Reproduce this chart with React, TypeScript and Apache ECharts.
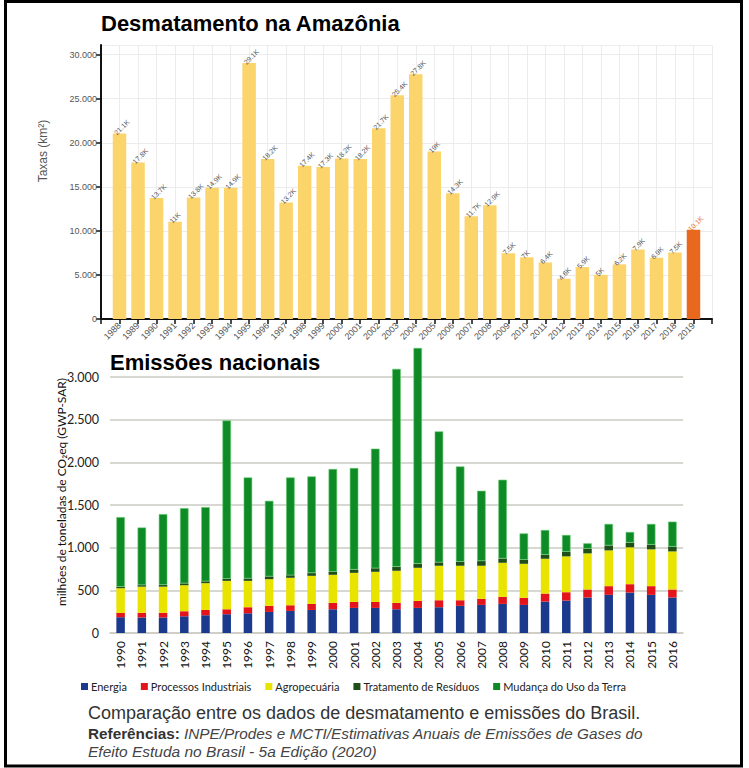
import React, { useEffect, useRef } from "react";
import * as echarts from "echarts";

// ---- Top chart: Desmatamento na Amazônia (PRODES, km²) ----
const deforestYears = [
  1988, 1989, 1990, 1991, 1992, 1993, 1994, 1995, 1996, 1997, 1998, 1999, 2000, 2001, 2002, 2003,
  2004, 2005, 2006, 2007, 2008, 2009, 2010, 2011, 2012, 2013, 2014, 2015, 2016, 2017, 2018, 2019,
];
const deforestRates = [
  21050, 17770, 13730, 11030, 13786, 14896, 14896, 29059, 18161, 13227, 17383, 17259, 18226, 18165,
  21651, 25396, 27772, 19014, 14286, 11651, 12911, 7464, 7000, 6418, 4571, 5891, 5012, 6207, 7893,
  6947, 7536, 10129,
];
const highlightYear = 2019;

// ---- Bottom chart: Emissões nacionais (milhões t CO2eq) ----
const emissionYears = [
  "1990", "1991", "1992", "1993", "1994", "1995", "1996", "1997", "1998", "1999", "2000", "2001",
  "2002", "2003", "2004", "2005", "2006", "2007", "2008", "2009", "2010", "2011", "2012", "2013",
  "2014", "2015", "2016",
];
const energia = [
  185, 182, 182, 196, 208, 220, 231, 247, 259, 270, 278, 294, 294, 278, 294, 302, 318, 329, 341, 329,
  368, 380, 416, 447, 474, 447, 416,
];
const processos = [
  50, 55, 55, 59, 62, 58, 71, 71, 66, 71, 75, 70, 70, 75, 82, 82, 66, 71, 82, 83, 94, 98, 94, 102, 98,
  102, 94,
];
const agropecuaria = [
  290, 306, 306, 305, 314, 333, 309, 313, 322, 329, 329, 341, 353, 376, 388, 404, 404, 388, 400, 399,
  408, 420, 423, 419, 432, 431, 446,
];
const residuos = [
  16, 18, 20, 22, 22, 24, 28, 32, 30, 32, 36, 38, 42, 46, 46, 40, 46, 55, 50, 47, 47, 55, 55, 58, 55,
  55, 55,
];
const mudancaUsoTerra = [
  817, 675, 830, 881, 869, 1855, 1184, 886, 1146, 1133, 1203, 1190, 1401, 2320, 2530, 1535, 1118, 824,
  923, 309, 290, 196, 63, 252, 125, 243, 294,
];
const emissionSeriesNames = [
  "Energia",
  "Processos Industriais",
  "Agropecuária",
  "Tratamento de Resíduos",
  "Mudança do Uso da Terra",
];

const dotThousands = (v: number) => String(v).replace(/\B(?=(\d{3})+(?!\d))/g, ".");
const fmtK = (v: number) => {
  const k = Math.round(v / 100) / 10;
  return (Number.isInteger(k) ? k.toFixed(0) : k.toFixed(1)) + "K";
};

const SANS = "'Liberation Sans', Arial, sans-serif";
const CAL = "Lato, 'Noto Sans', sans-serif";

export default function App() {
  const ref = useRef<HTMLDivElement>(null);

  useEffect(() => {
    if (!ref.current) return;
    const chart = echarts.init(ref.current, undefined, { renderer: "svg" });

    const emissionData = [energia, processos, agropecuaria, residuos, mudancaUsoTerra];
    const emissionColors = ["#1B3A8E", "#E3141C", "#E9E300", "#1F4F17", "#0E8A27"];

    const option: any = {
      animation: false,
      backgroundColor: "#ffffff",
      grid: [
        { left: 101, top: 45, right: 37, bottom: 449 },
        { left: 110, top: 377, right: 66, bottom: 135 },
      ],
      xAxis: [
        {
          type: "value",
          gridIndex: 0,
          min: 1987,
          max: 2020,
          interval: 1,
          axisLine: { show: true, lineStyle: { color: "#111", width: 2 } },
          axisTick: { show: true, length: 5, lineStyle: { color: "#111", width: 1.5 } },
          axisLabel: {
            rotate: 45,
            fontSize: 9,
            color: "#555",
            fontFamily: SANS,
            margin: 5,
            formatter: (v: number) => (v >= 1988 && v <= 2019 ? String(v) : ""),
          },
          splitLine: { show: true, lineStyle: { color: "#ececec", width: 1 } },
        },
        {
          type: "category",
          gridIndex: 1,
          data: emissionYears,
          axisLine: { show: true, lineStyle: { color: "#cbcbc4", width: 1.5 } },
          axisTick: { show: false },
          axisLabel: {
            rotate: 90,
            fontSize: 12,
            color: "#111",
            fontFamily: CAL,
            margin: 8,
          },
          splitLine: { show: false },
        },
      ],
      yAxis: [
        {
          type: "value",
          gridIndex: 0,
          min: 0,
          max: 31100,
          interval: 5000,
          axisLine: { show: true, lineStyle: { color: "#111", width: 2 } },
          axisTick: { show: true, length: 5, lineStyle: { color: "#111", width: 1.5 } },
          axisLabel: {
            fontSize: 9,
            color: "#555",
            fontFamily: SANS,
            margin: 4,
            showMaxLabel: false,
            formatter: (v: number) => dotThousands(v),
          },
          splitLine: { show: true, lineStyle: { color: "#ececec", width: 1 } },
        },
        {
          type: "value",
          gridIndex: 1,
          min: 0,
          max: 3000,
          interval: 500,
          axisLine: { show: false },
          axisTick: { show: false },
          axisLabel: {
            fontSize: 12.5,
            color: "#222",
            fontFamily: CAL,
            margin: 11,
            formatter: (v: number) => dotThousands(v),
          },
          splitLine: { show: true, lineStyle: { color: "#cbcbc4", width: 1.5 } },
        },
      ],
      legend: {
        data: emissionSeriesNames,
        left: 81,
        top: 681,
        padding: 0,
        icon: "rect",
        itemWidth: 7,
        itemHeight: 7,
        itemGap: 14,
        itemStyle: { borderWidth: 0 },
        textStyle: { fontFamily: CAL, fontSize: 11, color: "#222", padding: [0, 0, 0, -2] },
      },
      series: [
        {
          name: "Desmatamento",
          type: "bar",
          xAxisIndex: 0,
          yAxisIndex: 0,
          barWidth: 13.5,
          itemStyle: { color: "#FCD46C" },
          label: {
            show: true,
            position: "top",
            rotate: 45,
            align: "left",
            verticalAlign: "middle",
            distance: 4,
            offset: [-6, 0],
            fontSize: 7,
            color: "#555",
            fontFamily: SANS,
            formatter: (p: any) => fmtK(p.value[1]),
          },
          data: deforestYears.map((y, i) => {
            const item: any = { value: [y, deforestRates[i]] };
            if (y === highlightYear) {
              item.itemStyle = { color: "#E8681E" };
              item.label = { color: "#E8681E" };
            }
            return item;
          }),
        },
        ...emissionSeriesNames.map((name, k) => ({
          name,
          type: "bar",
          stack: "emissoes",
          xAxisIndex: 1,
          yAxisIndex: 1,
          barWidth: 8.5,
          clip: false,
          itemStyle:
            k === 4
              ? { color: emissionColors[k], borderColor: "#63c96a", borderWidth: 0.6 }
              : { color: emissionColors[k] },
          data: emissionData[k],
        })),
      ],
      graphic: [
        {
          type: "rect",
          shape: { x: 5.5, y: 1.5, width: 736, height: 764.5 },
          style: { fill: "none", stroke: "#000", lineWidth: 3 },
          silent: true,
        },
        {
          type: "text",
          x: 101,
          y: 23,
          style: {
            text: "Desmatamento na Amazônia",
            font: `bold 22px ${SANS}`,
            fill: "#000",
            align: "left",
            verticalAlign: "middle",
          },
        },
        {
          type: "text",
          x: 43,
          y: 151,
          rotation: Math.PI / 2,
          style: {
            text: "Taxas (km²)",
            font: `12px ${SANS}`,
            fill: "#555",
            align: "center",
            verticalAlign: "middle",
          },
        },
        {
          type: "text",
          x: 110,
          y: 362,
          style: {
            text: "Emissões nacionais",
            font: `bold 22px ${SANS}`,
            fill: "#000",
            align: "left",
            verticalAlign: "middle",
          },
        },
        {
          type: "text",
          x: 61,
          y: 492,
          rotation: Math.PI / 2,
          style: {
            text: "milhões de toneladas de CO₂eq (GWP-SAR)",
            font: `12px ${CAL}`,
            fill: "#111",
            align: "center",
            verticalAlign: "middle",
          },
        },
        {
          type: "text",
          x: 88,
          y: 713,
          style: {
            text: "Comparação entre os dados de desmatamento e emissões do Brasil.",
            font: `18px ${SANS}`,
            fill: "#333",
            align: "left",
            verticalAlign: "middle",
          },
        },
        {
          type: "text",
          x: 88,
          y: 733,
          style: {
            text:
              "{b|Referências:} {i|INPE/Prodes e MCTI/Estimativas Anuais de Emissões de Gases do}",
            align: "left",
            verticalAlign: "middle",
            rich: {
              b: { font: `bold 15.3px ${SANS}`, fill: "#333" },
              i: { font: `italic 15.3px ${SANS}`, fill: "#444" },
            },
            font: `15.3px ${SANS}`,
          },
        },
        {
          type: "text",
          x: 88,
          y: 751,
          style: {
            text: "Efeito Estuda no Brasil - 5a Edição (2020)",
            font: `italic 15.5px ${SANS}`,
            fill: "#444",
            align: "left",
            verticalAlign: "middle",
          },
        },
      ],
    };

    chart.setOption(option);
    return () => chart.dispose();
  }, []);

  return (
    <div
      ref={ref}
      style={{ position: "absolute", left: 0, top: 0, width: 749, height: 768, background: "#fff" }}
    />
  );
}
